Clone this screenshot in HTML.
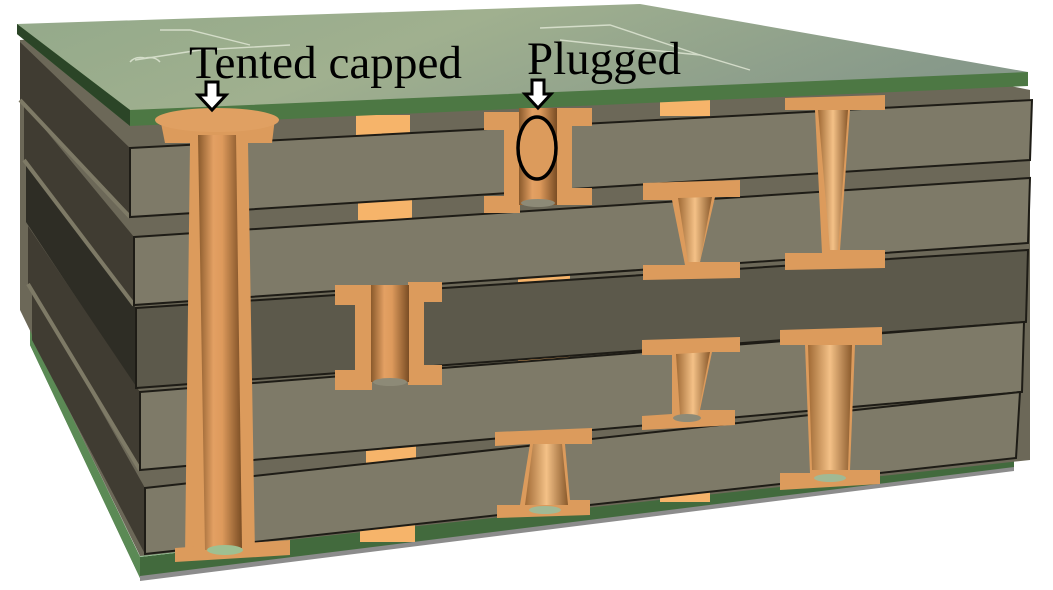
<!DOCTYPE html>
<html><head><meta charset="utf-8"><style>
html,body{margin:0;padding:0;background:#fff;width:1053px;height:590px;overflow:hidden}
svg{display:block}
</style></head><body>
<svg width="1053" height="590" viewBox="0 0 1053 590" xmlns="http://www.w3.org/2000/svg">
<defs>
<linearGradient id="barrel" x1="0" x2="1" y1="0" y2="0">
<stop offset="0" stop-color="#8a5a2c"/><stop offset="0.35" stop-color="#e3a063"/><stop offset="0.55" stop-color="#dd9a5c"/><stop offset="1" stop-color="#7a4d24"/>
</linearGradient>
<linearGradient id="cone" x1="0" x2="1"><stop offset="0" stop-color="#a06a35"/><stop offset="0.5" stop-color="#f4c187"/><stop offset="1" stop-color="#8a5a2c"/></linearGradient>
<linearGradient id="topg" x1="0" x2="1" y1="0" y2="0.3"><stop offset="0" stop-color="#93a98a"/><stop offset="0.45" stop-color="#a0b08f"/><stop offset="1" stop-color="#87998a"/></linearGradient>
</defs>

<polygon points="30,330 140,557 1014,455 1014,470 140,578 30,345" fill="#426a3d"/>
<polygon points="30,330 140,557 140,578 30,345" fill="#5b8a55"/>
<polygon points="140,576 1014,467 1014,471 140,581" fill="#8c8c8c"/>
<polygon points="60,300 140,557 1014,455 1000,440 400,470 150,540" fill="#8fb88d"/>

<polygon points="20,40 640,10 1030,90 1030,460 140,556 20,310" fill="#6c6858"/>

<polygon points="20,42 130,148 130,217 20,100" fill="#403c32"/>
<polygon points="24,104 134,237 134,305 24,160" fill="#403c32"/>
<polygon points="26,164 136,308 136,388 26,222" fill="#2e2d25"/>
<polygon points="28,226 140,392 140,470 28,284" fill="#403c32"/>
<polygon points="32,288 145,488 145,554 32,340" fill="#403c32"/>
<polyline points="20,100 130,217" stroke="#7e7a66" stroke-width="4" fill="none"/>
<polyline points="24,160 134,305" stroke="#7e7a66" stroke-width="4" fill="none"/>
<polyline points="28,284 140,470" stroke="#7e7a66" stroke-width="4" fill="none"/>

<g fill="#f6b46a">
<rect x="356" y="115" width="54" height="20"/>
<rect x="358" y="200" width="54" height="20"/>
<rect x="660" y="98" width="50" height="18"/>
<rect x="518" y="270" width="52" height="18"/>
<rect x="518" y="352" width="52" height="18"/>
<rect x="777" y="320" width="52" height="16"/>
<rect x="366" y="443" width="50" height="20"/>
<rect x="660" y="484" width="50" height="18"/>
<rect x="360" y="522" width="55" height="20"/>
</g>

<g stroke="#1e1c16" stroke-width="2">
<polygon points="130,148 1032,100 1030,160 130,217" fill="#7e7a68"/>
<polygon points="134,237 1030,178 1028,243 134,305" fill="#7e7a68"/>
<polygon points="136,308 1028,250 1026,322 136,388" fill="#5c594b"/>
<polygon points="140,392 1024,322 1022,392 140,470" fill="#7e7a68"/>
<polygon points="145,488 1020,392 1016,458 145,554" fill="#7e7a68"/>
</g>

<polygon points="17,24 640,4 1028,72 1028,82 130,118 17,32" fill="url(#topg)"/>
<polygon points="17,24 130,110 1028,72 1028,86 130,126 17,34" fill="#4d7844"/>
<polygon points="17,24 130,110 130,126 17,34" fill="#2b4527"/>
<g stroke="#dfe6d4" stroke-width="1.4" fill="none" opacity="0.85">
<path d="M135,60 L200,50 L290,45 M160,30 L190,30 L250,45 M560,40 L650,50 L700,55 L750,70"/>
<path d="M540,28 L610,25 L700,55 M130,62 q5,-6 15,-4 q10,-2 15,4"/>
</g>

<polygon points="160,118 275,118 272,143 248,143 255,555 185,557 190,143 165,143" fill="#dc9b5c"/>
<polygon points="175,548 290,540 290,555 175,562" fill="#dc9b5c"/>
<polygon points="198,135 236,135 242,548 205,550" fill="url(#barrel)"/>
<ellipse cx="217" cy="120" rx="62" ry="12" fill="#e0a062"/>
<ellipse cx="225" cy="550" rx="18" ry="5" fill="#9ec092"/>

<g fill="#dc9b5c">
<rect x="484" y="112" width="36" height="18"/><rect x="484" y="196" width="36" height="17"/>
<rect x="504" y="112" width="16" height="100"/>
<rect x="557" y="108" width="35" height="18"/><rect x="557" y="188" width="35" height="17"/>
<rect x="557" y="108" width="15" height="97"/>
</g>
<rect x="519" y="108" width="38" height="97" fill="url(#barrel)"/>
<ellipse cx="537" cy="148" rx="19" ry="31" fill="#dc9b5c" stroke="#000" stroke-width="3.5"/>

<g fill="#dc9b5c">
<rect x="335" y="285" width="37" height="20"/><rect x="335" y="370" width="37" height="20"/>
<rect x="355" y="285" width="17" height="105"/>
<rect x="408" y="282" width="34" height="20"/><rect x="408" y="365" width="34" height="20"/>
<rect x="408" y="282" width="16" height="103"/>
</g>
<rect x="371" y="285" width="38" height="97" fill="url(#barrel)"/>

<g fill="#dc9b5c">
<polygon points="643,183 740,180 740,197 715,197 700,262 740,262 740,278 643,280 643,265 685,265 672,200 643,200"/>
<polygon points="785,98 885,95 885,110 850,110 840,250 885,250 885,268 785,270 785,253 822,253 815,110 785,110"/>
<polygon points="642,340 740,337 740,352 712,352 700,410 735,410 735,425 642,430 642,416 672,414 672,355 642,355"/>
<polygon points="780,330 882,327 882,345 855,345 850,470 880,470 880,484 780,490 780,473 810,473 805,345 780,345"/>
<polygon points="495,432 592,428 592,444 565,444 570,500 590,500 590,515 497,518 497,505 520,505 530,444 495,446"/>
</g>
<g fill="url(#cone)">
<polygon points="678,198 712,197 700,262 688,262"/>
<polygon points="818,110 848,110 838,250 830,250"/>
<polygon points="676,354 710,352 698,415 680,415"/>
<polygon points="808,345 852,345 848,470 812,470"/>
<polygon points="533,444 562,444 568,505 525,505"/>
</g>
<ellipse cx="687" cy="418" rx="14" ry="4" fill="#8d8a77"/>
<ellipse cx="830" cy="478" rx="16" ry="4" fill="#a1b995"/>
<ellipse cx="545" cy="510" rx="16" ry="4" fill="#a1b995"/>
<ellipse cx="390" cy="382" rx="17" ry="4" fill="#8d8a77"/>
<ellipse cx="538" cy="203" rx="17" ry="4" fill="#8d8a77"/>

<text x="189" y="78" font-family="Liberation Serif, DejaVu Serif, serif" font-size="47" fill="#000" textLength="273" lengthAdjust="spacingAndGlyphs">Tented capped</text>
<text x="527" y="74" font-family="Liberation Serif, DejaVu Serif, serif" font-size="47" fill="#000" textLength="154" lengthAdjust="spacingAndGlyphs">Plugged</text>
<g fill="#fff" stroke="#000" stroke-width="3" stroke-linejoin="miter">
<polygon points="206,82 218,82 218,95 226,95 212,110 198,95 206,95"/>
<polygon points="532,80 544,80 544,94 551,94 538,108 525,94 532,94"/>
</g>
</svg>
</body></html>
